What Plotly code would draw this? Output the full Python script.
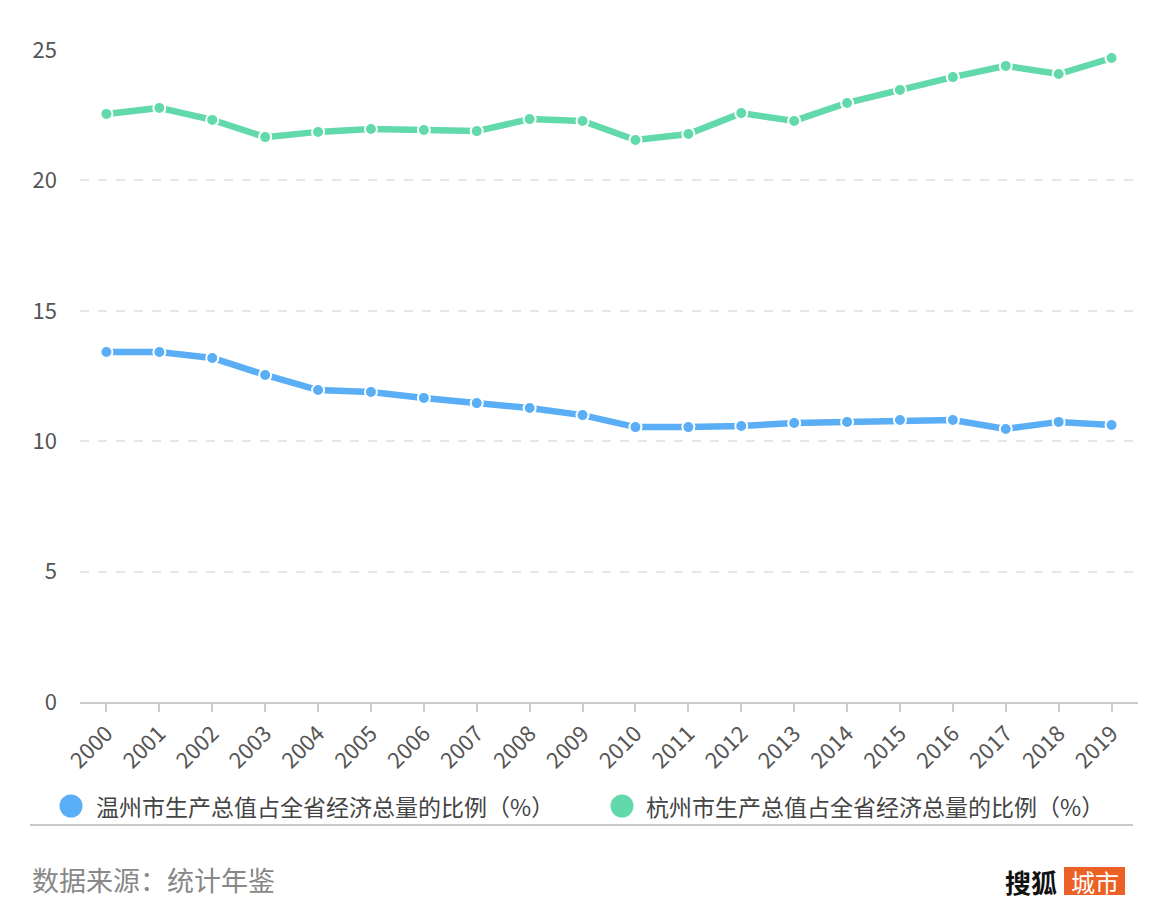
import plotly.graph_objects as go

years = [str(y) for y in range(2000, 2020)]
wenzhou = [13.42, 13.42, 13.19, 12.54, 11.96, 11.89, 11.66, 11.46, 11.27, 11.00,
           10.54, 10.54, 10.58, 10.70, 10.74, 10.81, 10.81, 10.47, 10.74, 10.62]
hangzhou = [22.55, 22.78, 22.32, 21.66, 21.86, 21.97, 21.93, 21.89, 22.35, 22.28,
            21.55, 21.78, 22.58, 22.28, 22.97, 23.47, 23.96, 24.39, 24.08, 24.69]
series_names = ["温州市生产总值占全省经济总量的比例（%）", "杭州市生产总值占全省经济总量的比例（%）"]
y_ticks = [0, 5, 10, 15, 20, 25]
source_text = "数据来源：统计年鉴"

BLUE = "#5AAEF5"
GREEN = "#62D9AB"
FONT = "Noto Sans CJK SC"

# page body has an 8px margin; work in reference page coordinates and subtract it
OFF = 8
W, H = 1164 - 2 * OFF, 920 - 2 * OFF
PL, PR, PT, PB = 80, 1138, 50, 702  # plot area in page coordinates
L, T = PL - OFF, PT - OFF
R = W - (PR - OFF)
B = H - (PB - OFF)
PW, PH = PR - PL, PB - PT


def px(x):
    return (x - PL) / PW


def py(y):
    return (PB - y) / PH


fig = go.Figure()
for vals, color, name in [(wenzhou, BLUE, series_names[0]), (hangzhou, GREEN, series_names[1])]:
    fig.add_trace(go.Scatter(
        x=years, y=vals, mode="lines+markers", name=name,
        line=dict(color=color, width=6.5),
        marker=dict(color=color, size=12, line=dict(color="white", width=2)),
        cliponaxis=False, showlegend=False,
    ))

fig.update_layout(
    width=W, height=H,
    margin=dict(l=L, r=R, t=T, b=B),
    plot_bgcolor="white", paper_bgcolor="white",
    font=dict(family=FONT, color="#555555", size=20),
    xaxis=dict(
        type="category", range=[-0.5, 19.5],
        showgrid=False, showline=True, linecolor="#CCCCCC", linewidth=2,
        ticks="outside", ticklen=8, tickcolor="#CCCCCC", tickwidth=2,
        tickangle=-45, tickfont=dict(size=22, color="#555555", family=FONT),
    ),
    yaxis=dict(
        range=[0, 25], tickvals=y_ticks, ticktext=[str(v) for v in y_ticks],
        showgrid=True, gridcolor="#E6E6E6", griddash="dash", gridwidth=1.5,
        zeroline=False, showline=False, ticks="", ticklabelstandoff=22,
        tickfont=dict(size=22, color="#555555", family=FONT),
    ),
    showlegend=False,
)

shapes = []
annotations = []
for cx, tx, color, name in [(71, 94, BLUE, series_names[0]), (622, 644, GREEN, series_names[1])]:
    shapes.append(dict(type="circle", xref="paper", yref="paper",
                       xsizemode="pixel", ysizemode="pixel",
                       xanchor=px(cx), yanchor=py(806),
                       x0=-11.5, x1=11.5, y0=-11.5, y1=11.5,
                       fillcolor=color, line=dict(width=0)))
    annotations.append(dict(text=name, xref="paper", yref="paper", x=px(tx), y=py(806),
                            xanchor="left", yanchor="middle", showarrow=False,
                            font=dict(size=23, color="#444444", family=FONT)))

shapes.append(dict(type="line", xref="paper", yref="paper",
                   x0=px(30), x1=px(1133), y0=py(825), y1=py(825),
                   line=dict(color="#C8C8C8", width=2)))

annotations.append(dict(text=source_text, xref="paper", yref="paper", x=px(30), y=py(879),
                        xanchor="left", yanchor="middle", showarrow=False,
                        font=dict(size=27, color="#888888", family=FONT)))

annotations.append(dict(text="<b>搜狐</b>", xref="paper", yref="paper", x=px(1059), y=py(881),
                        xanchor="right", yanchor="middle", showarrow=False,
                        font=dict(size=26, color="#111111", family=FONT)))
shapes.append(dict(type="rect", xref="paper", yref="paper",
                   x0=px(1064), x1=px(1125), y0=py(867), y1=py(895),
                   fillcolor="#EC5F25", line=dict(width=0)))
annotations.append(dict(text="城市", xref="paper", yref="paper", x=px(1094.5), y=py(881),
                        xanchor="center", yanchor="middle", showarrow=False,
                        font=dict(size=24, color="white", family=FONT)))

fig.update_layout(shapes=shapes, annotations=annotations)
fig.write_html("out.html")
